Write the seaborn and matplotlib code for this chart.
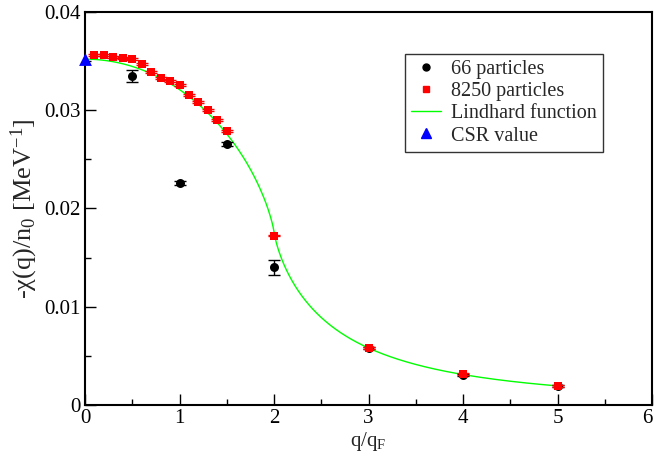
import numpy as np
import pandas as pd
import matplotlib
matplotlib.use("Agg")
import matplotlib.pyplot as plt
import seaborn as sns
from matplotlib.ticker import MultipleLocator
from matplotlib.lines import Line2D

# Static response -chi(q)/n0 in MeV^-1 versus q/qF
q_66 = [0.5, 1.0, 1.5, 2.0, 3.0, 4.0, 5.0]
chi_66 = [0.0335, 0.0226, 0.0266, 0.0140, 0.00577, 0.00310, 0.00193]
err_66 = [0.0006, 0.0002, 0.0002, 0.0008, 0.0001, 0.0001, 0.0001]

q_8250 = [0.1, 0.2, 0.3, 0.4, 0.5, 0.6, 0.7, 0.8, 0.9, 1.0,
          1.1, 1.2, 1.3, 1.4, 1.5, 2.0, 3.0, 4.0, 5.0]
chi_8250 = [0.03561, 0.03561, 0.03543, 0.03527, 0.03517, 0.03469, 0.03391,
            0.03330, 0.03296, 0.03255, 0.03154, 0.03079, 0.03001, 0.02899,
            0.02787, 0.01725, 0.00577, 0.00312, 0.00193]
err_8250 = [0.0001] * len(q_8250)

q_csr = [0.0]
chi_csr = [0.0352]

x_ticks = [0, 1, 2, 3, 4, 5, 6]
x_ticklabels = ["0", "1", "2", "3", "4", "5", "6"]
y_ticks = [0.0, 0.01, 0.02, 0.03, 0.04]
y_ticklabels = ["0", "0.01", "0.02", "0.03", "0.04"]

# Lindhard function of a free Fermi gas, normalised to its q=0 value
chi0_lindhard = 0.0352
q_lin = np.linspace(0.0, 5.05, 600)
x = np.clip(q_lin / 2.0, 1e-9, None)
with np.errstate(divide="ignore", invalid="ignore"):
    f_lin = 0.5 + (1 - x**2) / (4 * x) * np.log(np.abs((1 + x) / (1 - x)))
f_lin = np.where(np.isfinite(f_lin), f_lin, 0.5)
lindhard = pd.DataFrame({"q": q_lin, "chi": chi0_lindhard * f_lin})

sns.set_theme(style="ticks")
plt.rcParams["font.family"] = ["Liberation Serif", "DejaVu Serif"]
plt.rcParams["mathtext.fontset"] = "custom"
plt.rcParams["mathtext.rm"] = "Liberation Serif"
plt.rcParams["mathtext.it"] = "Liberation Serif:italic"

fig = plt.figure(figsize=(6.54, 4.57), dpi=100)
ax = fig.add_axes([0.130, 0.1138, 0.867, 0.860])

sns.lineplot(data=lindhard, x="q", y="chi", ax=ax, color="#00ff00",
             linewidth=1.0, zorder=2, legend=False)

ax.errorbar(q_66, chi_66, yerr=err_66, fmt="none", ecolor="black",
            elinewidth=1.0, capsize=4.3, capthick=1.0, zorder=3)
sns.scatterplot(x=q_66, y=chi_66, ax=ax, marker="o", s=42, color="black",
                edgecolor="black", linewidth=0, zorder=4, legend=False)

ax.errorbar(q_8250, chi_8250, yerr=err_8250, fmt="none", ecolor="red",
            elinewidth=1.0, capsize=4.0, capthick=1.0, zorder=5)
sns.scatterplot(x=q_8250, y=chi_8250, ax=ax, marker="s", s=30, color="red",
                edgecolor="red", linewidth=0, zorder=6, legend=False)

sns.scatterplot(x=q_csr, y=chi_csr, ax=ax, marker="^", s=85, color="blue",
                edgecolor="blue", linewidth=0, zorder=7, legend=False,
                clip_on=False)

ax.set_xlim(0, 6)
ax.set_ylim(0, 0.04)
ax.set_xticks(x_ticks)
ax.set_xticklabels(x_ticklabels)
ax.set_yticks(y_ticks)
ax.set_yticklabels(y_ticklabels)
ax.xaxis.set_minor_locator(MultipleLocator(0.5))
ax.yaxis.set_minor_locator(MultipleLocator(0.005))
ax.tick_params(which="both", direction="in", colors="black",
               labelsize=15, width=1.0)
ax.tick_params(which="major", length=8)
ax.tick_params(which="minor", length=4)
ax.tick_params(axis="x", pad=3)
ax.tick_params(axis="y", pad=3)
for s in ax.spines.values():
    s.set_linewidth(1.5)
    s.set_color("black")
    s.set_visible(True)

# keep the last x tick label inside the figure edge
ax.xaxis.get_major_ticks()[-1].label1.set_horizontalalignment("right")

ax.set_xlabel("q/q$_\\mathrm{F}$", fontsize=15, labelpad=1)
ax.set_ylabel("-χ(q)/n$_0$ [MeV$^{-1}$]", fontsize=19, labelpad=3)

handles = [
    Line2D([], [], marker="o", color="black", linestyle="none", markersize=5),
    Line2D([], [], marker="s", color="red", linestyle="none", markersize=4.5),
    Line2D([], [], color="#00ff00", linewidth=1.0),
    Line2D([], [], marker="^", color="blue", linestyle="none", markersize=7),
]
labels = ["66 particles", "8250 particles", "Lindhard function", "CSR value"]
leg = ax.legend(handles, labels, loc="upper left",
                bbox_to_anchor=(0.564, 0.893), borderaxespad=0,
                fontsize=14.5, frameon=True, fancybox=False, shadow=False,
                handlelength=1.5, handletextpad=0.5, labelspacing=0.15,
                borderpad=0.3)
leg.get_frame().set_edgecolor("black")
leg.get_frame().set_linewidth(1.0)

fig.savefig("out.png", dpi=100)
